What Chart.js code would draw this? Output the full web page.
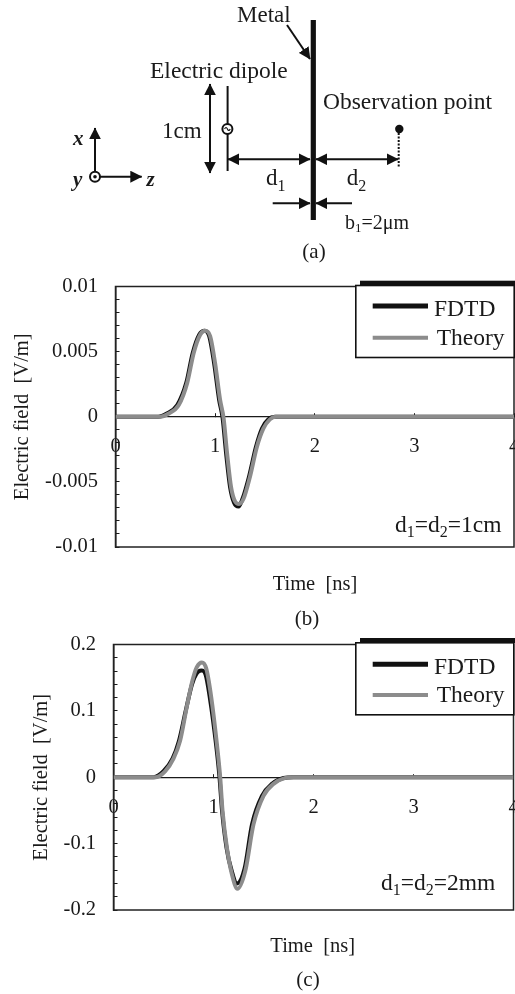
<!DOCTYPE html>
<html>
<head>
<meta charset="utf-8">
<title>Electric field through metal</title>
<script src="https://cdn.jsdelivr.net/npm/chart.js@4"></script>
<style>
  html, body { margin: 0; padding: 0; background: #fff; overflow: hidden; }
  #page { position: relative; width: 515px; height: 994px; }
  canvas { position: absolute; left: 0; }
  #overlay { position: absolute; left: 0; top: 0; }
  #overlay text { font-family: "Liberation Serif", serif; fill: #1a1a1a; }
</style>
</head>
<body>
<div id="page">
  <canvas id="chartB" width="515" height="300" style="top:270px"></canvas>
  <canvas id="chartC" width="515" height="300" style="top:630px"></canvas>

  <svg id="overlay" width="515" height="994">
    <defs>
      <marker id="head" viewBox="0 0 10 10" refX="9.5" refY="5" markerWidth="12" markerHeight="12" markerUnits="userSpaceOnUse" orient="auto-start-reverse">
        <path d="M0 0 L10 5 L0 10 Z" fill="#111"></path>
      </marker>
    </defs>

    <!-- (a) setup sketch -->
    <g stroke="#111" stroke-width="2" fill="none">
      <line x1="313.3" y1="20" x2="313.3" y2="220" stroke-width="5.2"></line>
      <line x1="287" y1="25" x2="310" y2="59" marker-end="url(#head)"></line>
      <line x1="210" y1="84" x2="210" y2="173" marker-start="url(#head)" marker-end="url(#head)"></line>
      <line x1="227.6" y1="86" x2="227.6" y2="171"></line>
      <line x1="228" y1="159.3" x2="310" y2="159.3" marker-start="url(#head)" marker-end="url(#head)"></line>
      <line x1="316" y1="159.3" x2="398" y2="159.3" marker-start="url(#head)" marker-end="url(#head)"></line>
      <line x1="272.7" y1="203.3" x2="310" y2="203.3" marker-end="url(#head)"></line>
      <line x1="352" y1="203.3" x2="316" y2="203.3" marker-end="url(#head)"></line>
      <line x1="398.7" y1="133" x2="398.7" y2="167" stroke-dasharray="2 1.5"></line>
      <line x1="95" y1="176.7" x2="95" y2="128" marker-end="url(#head)"></line>
      <line x1="95" y1="176.7" x2="141.7" y2="176.7" marker-end="url(#head)"></line>
      <circle cx="227.4" cy="129" r="5" fill="#fff"></circle>
      <path d="M224.6 129 q1.4 -3 2.8 0 t2.8 0" stroke-width="1.2"></path>
      <circle cx="95" cy="176.7" r="5" fill="#fff"></circle>
    </g>
    <circle cx="95" cy="176.7" r="1.8" fill="#111"></circle>
    <circle cx="399.3" cy="129" r="4.2" fill="#111"></circle>
    <text x="237" y="22" font-size="23">Metal</text>
    <text x="150" y="78" font-size="23.5">Electric dipole</text>
    <text x="323" y="109" font-size="23.5">Observation point</text>
    <text x="162" y="138" font-size="23">1cm</text>
    <text x="266" y="185" font-size="23">d<tspan font-size="16" dy="6">1</tspan></text>
    <text x="346.7" y="185" font-size="23">d<tspan font-size="16" dy="6">2</tspan></text>
    <text x="345" y="229" font-size="20">b<tspan font-size="13" dy="3">1</tspan><tspan dy="-3">=2μm</tspan></text>
    <text x="73" y="145" font-size="21" font-style="italic" font-weight="bold">x</text>
    <text x="73" y="186" font-size="21" font-style="italic" font-weight="bold">y</text>
    <text x="146.5" y="186" font-size="21" font-style="italic" font-weight="bold">z</text>
    <text x="314" y="258" font-size="21" text-anchor="middle">(a)</text>

    <!-- (b) legend and labels -->
    <rect x="360" y="280.7" width="155" height="5" fill="#111"></rect>
    <rect x="355.8" y="285.5" width="158.4" height="72" fill="#fff" stroke="#111" stroke-width="1.6"></rect>
    <line x1="372.7" y1="306" x2="428" y2="306" stroke="#111" stroke-width="5"></line>
    <line x1="372.7" y1="337.7" x2="428" y2="337.7" stroke="#8c8c8c" stroke-width="4"></line>
    <text x="434" y="315.7" font-size="23.5">FDTD</text>
    <text x="436.7" y="345" font-size="23.5">Theory</text>
    <text x="395" y="531.7" font-size="23.5">d<tspan font-size="16" dy="5">1</tspan><tspan dy="-5">=d</tspan><tspan font-size="16" dy="5">2</tspan><tspan dy="-5">=1cm</tspan></text>
    <text x="315" y="590" font-size="20.5" text-anchor="middle" xml:space="preserve">Time  [ns]</text>
    <text x="307" y="625" font-size="21" text-anchor="middle">(b)</text>

    <!-- (c) legend and labels -->
    <rect x="360" y="638" width="155" height="5" fill="#111"></rect>
    <rect x="355.8" y="642.8" width="158" height="72" fill="#fff" stroke="#111" stroke-width="1.6"></rect>
    <line x1="372.7" y1="664.3" x2="428" y2="664.3" stroke="#111" stroke-width="5"></line>
    <line x1="372.7" y1="695" x2="428" y2="695" stroke="#8c8c8c" stroke-width="4"></line>
    <text x="434" y="674" font-size="23.5">FDTD</text>
    <text x="436.7" y="702" font-size="23.5">Theory</text>
    <text x="381" y="890" font-size="23.5">d<tspan font-size="16" dy="5">1</tspan><tspan dy="-5">=d</tspan><tspan font-size="16" dy="5">2</tspan><tspan dy="-5">=2mm</tspan></text>
    <text x="312.7" y="952" font-size="20.5" text-anchor="middle" xml:space="preserve">Time  [ns]</text>
    <text x="308" y="986" font-size="21" text-anchor="middle">(c)</text>
  </svg>
</div>

<script>
  // values
  const timeLabels = ['0', '1', '2', '3', '4'];

  const timesB = [0, 0.45, 0.53, 0.635, 0.72, 0.785, 0.85, 0.9, 0.95, 1.0, 1.05, 1.085, 1.12, 1.16, 1.2, 1.24, 1.285, 1.35, 1.42, 1.485, 1.55, 1.61, 4];
  const theoryB = [0, 0, 0.00023, 0.0009, 0.0026, 0.0049, 0.0063, 0.0066, 0.0062, 0.0041, 0.0013, -0.0001, -0.0028, -0.0054, -0.0065, -0.0067, -0.0063, -0.0046, -0.0023, -0.0009, -0.0002, 0, 0];
  const fdtdTimesB = [0, 0.43, 0.51, 0.62, 0.71, 0.775, 0.84, 0.895, 0.94, 0.99, 1.04, 1.075, 1.11, 1.15, 1.19, 1.235, 1.275, 1.34, 1.41, 1.47, 1.535, 1.6, 4];
  const fdtdB = [0, 0, 0.00023, 0.0009, 0.0026, 0.0049, 0.0063, 0.0066, 0.0062, 0.0041, 0.0013, -0.0001, -0.0028, -0.0054, -0.0066, -0.0069, -0.0063, -0.0046, -0.0023, -0.0009, -0.0002, 0, 0];
  const yLabelsB = ['-0.01', '-0.005', '0', '0.005', '0.01'];

  const timesC = [0, 0.416, 0.516, 0.6, 0.666, 0.733, 0.79, 0.833, 0.884, 0.927, 0.977, 1.034, 1.067, 1.09, 1.134, 1.184, 1.24, 1.318, 1.4, 1.5, 1.6, 1.72, 1.8, 4];
  const theoryC = [0, 0, 0.009, 0.028, 0.055, 0.106, 0.146, 0.166, 0.173, 0.164, 0.121, 0.05, 0, -0.05, -0.106, -0.146, -0.168, -0.141, -0.071, -0.028, -0.01, -0.001, 0, 0];
  const fdtdTimesC = [0, 0.4, 0.5, 0.59, 0.655, 0.725, 0.785, 0.83, 0.878, 0.92, 0.965, 1.025, 1.06, 1.085, 1.13, 1.18, 1.235, 1.31, 1.385, 1.485, 1.585, 1.7, 1.8, 4];
  const fdtdC = [0, 0, 0.009, 0.028, 0.055, 0.102, 0.14, 0.156, 0.161, 0.155, 0.118, 0.05, 0, -0.05, -0.106, -0.14, -0.16, -0.138, -0.071, -0.028, -0.01, -0.001, 0, 0];
  const yLabelsC = ['-0.2', '-0.1', '0', '0.1', '0.2'];

  const serif = '"Liberation Serif", serif';
  const ink = '#1a1a1a';

  // plot frame, the scales only give us the left and zero lines
  const framePlugin = {
    id: 'frame',
    beforeDatasetsDraw(chart) {
      const { ctx, chartArea: a } = chart;
      ctx.save();
      ctx.strokeStyle = '#222';
      ctx.lineWidth = 1.5;
      ctx.strokeRect(a.left, a.top, a.right - a.left, a.bottom - a.top);
      ctx.restore();
    }
  };

  function toPoints(xs, ys) {
    return xs.map((x, i) => ({ x: x, y: ys[i] }));
  }

  function drawPanel(id, opts) {
    new Chart(document.getElementById(id), {
      type: 'line',
      plugins: [framePlugin],
      data: {
        datasets: [
          // higher order is painted first, Theory goes over FDTD
          { label: 'FDTD', order: 2, data: toPoints(opts.fdtdTimes, opts.fdtd), borderColor: '#111', borderWidth: 4, pointRadius: 0, cubicInterpolationMode: 'monotone' },
          { label: 'Theory', order: 1, data: toPoints(opts.times, opts.theory), borderColor: '#8c8c8c', borderWidth: 4, pointRadius: 0, cubicInterpolationMode: 'monotone' }
        ]
      },
      options: {
        responsive: false,
        animation: false,
        layout: { padding: opts.padding },
        plugins: { legend: { display: false }, tooltip: { enabled: false } },
        scales: {
          x: {
            type: 'linear',
            position: { y: 0 },
            min: 0,
            max: 4,
            // tick label overhang must not shrink the plot
            afterFit: (scale) => { scale.paddingLeft = 0; scale.paddingRight = 0; },
            grid: { drawOnChartArea: false, tickLength: -4, color: ink },
            border: { color: ink, width: 1.2 },
            ticks: {
              stepSize: 1,
              padding: 22,
              maxRotation: 0,
              color: ink,
              font: { family: serif, size: 20.5 },
              callback: (v, i) => timeLabels[i]
            }
          },
          y: {
            min: opts.yMax * -1,
            max: opts.yMax,
            afterFit: (scale) => { scale.width = opts.axisWidth; scale.paddingTop = 0; scale.paddingBottom = 0; },
            title: {
              display: true,
              text: 'Electric field  [V/m]',
              color: ink,
              font: { family: serif, size: 20.5 },
              padding: { top: opts.titleGap, bottom: 0 }
            },
            grid: { drawOnChartArea: false, tickLength: -4, color: ink },
            border: { color: ink, width: 1.5 },
            ticks: {
              stepSize: opts.yMax / 10,
              autoSkip: false,
              padding: 21.5,
              color: ink,
              font: { family: serif, size: 20.5 },
              callback: (v, i) => (i % 5 === 0 ? opts.yLabels[i / 5] : '')
            }
          }
        }
      }
    });
  }

  drawPanel('chartB', {
    times: timesB, theory: theoryB, fdtdTimes: fdtdTimesB, fdtd: fdtdB,
    yLabels: yLabelsB, yMax: 0.01, axisWidth: 115.5, titleGap: 10,
    padding: { top: 16.5, bottom: 23, right: 1, left: 0 }
  });

  drawPanel('chartC', {
    times: timesC, theory: theoryC, fdtdTimes: fdtdTimesC, fdtd: fdtdC,
    yLabels: yLabelsC, yMax: 0.2, axisWidth: 113.5, titleGap: 29,
    padding: { top: 14.5, bottom: 20, right: 1.5, left: 0 }
  });
</script>
</body>
</html>
